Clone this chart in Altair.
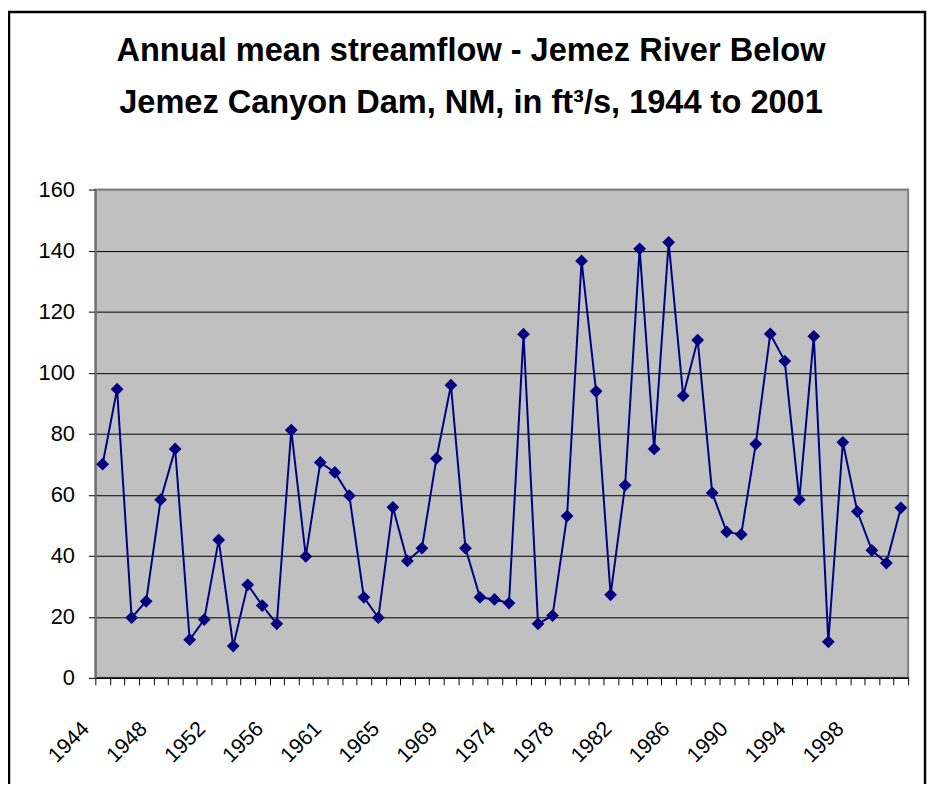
import json
import altair as alt
import pandas as pd

# ---- data ----
years = [str(y) for y in list(range(1944, 1957)) + [1958, 1959, 1960]
         + list(range(1961, 1970)) + [1971, 1972, 1973] + list(range(1974, 2002))]
flow = [70.0, 94.6, 19.7, 25.1, 58.4, 75.0, 12.5, 19.1, 45.2, 10.4, 30.5, 23.7, 17.7,
        81.2, 39.8, 70.6,
        67.3, 59.7, 26.4, 19.7, 55.9, 38.3, 42.5, 71.9, 95.9,
        42.5, 26.4, 25.7,
        24.5, 112.6, 17.7, 20.4, 53.0, 136.6, 93.9, 27.2, 63.1, 140.6, 75.0, 142.7,
        92.4, 110.7, 60.6, 47.8, 47.0, 76.6, 112.7, 103.8, 58.4, 111.9, 11.8, 77.2,
        54.5, 41.8, 37.6, 55.7]
labeled_years = years[::4]
y_ticks = [0, 20, 40, 60, 80, 100, 120, 140, 160]
title_lines = ["Annual mean streamflow - Jemez River Below",
               "Jemez Canyon Dam, NM, in ft\u00b3/s, 1944 to 2001"]

df = pd.DataFrame({"year": years, "flow": flow})

W, H = 819, 492
FONT = "Liberation Sans"
NAVY = "#000080"

label_expr = ("indexof(" + json.dumps(labeled_years) +
              ", datum.value) >= 0 ? datum.value : ''")

x_enc = alt.X(
    "year:O", sort=years,
    scale=alt.Scale(type="band", paddingInner=0, paddingOuter=0),
    axis=alt.Axis(title=None, labelExpr=label_expr, labelAngle=-45,
                  labelAlign="right", labelBaseline="middle",
                  labelFontSize=21.5, labelFont=FONT, labelColor="black",
                  labelPadding=41, labelOffset=-17, labelOverlap=False,
                  tickBand="extent", tickSize=7, tickColor="black",
                  domainColor="black", domainWidth=1.5, grid=False),
)
y_enc = alt.Y(
    "flow:Q",
    scale=alt.Scale(domain=[0, 160], nice=False, zero=True),
    axis=alt.Axis(title=None, values=y_ticks, labelFontSize=22, labelFont=FONT,
                  labelColor="black", labelPadding=14, tickSize=7,
                  tickColor="black", domainColor="#707070", domainWidth=2,
                  grid=True,
                  gridColor=alt.condition("datum.value == 160",
                                          alt.value("#808080"),
                                          alt.value("black")),
                  gridWidth=1),
)

line = alt.Chart(df).mark_line(
    color=NAVY, strokeWidth=2,
    point=alt.OverlayMarkDef(shape="diamond", size=165, filled=True,
                             color=NAVY, opacity=1),
).encode(x=x_enc, y=y_enc)

frame = alt.Chart(pd.DataFrame({"k": [0]})).mark_rect(
    filled=False, stroke="black", strokeWidth=2.5
).encode(
    x=alt.value(-87), x2=alt.value(836),
    y=alt.value(-179), y2=alt.value(640),
)

chart = alt.layer(line, frame).properties(
    width=W, height=H,
    padding={"left": 88, "top": 180, "right": 19, "bottom": 104},
    autosize=alt.AutoSizeParams(type="none"),
    background="white",
    title=alt.TitleParams(text=title_lines, font=FONT, fontSize=32.8,
                          fontWeight="bold", color="black", anchor="middle",
                          lineHeight=53, offset=-110, dx=-31),
).configure_view(
    fill="#C0C0C0", stroke="#808080", strokeWidth=2
)

chart.save("out.html", embed_options={"renderer": "svg", "actions": False})
